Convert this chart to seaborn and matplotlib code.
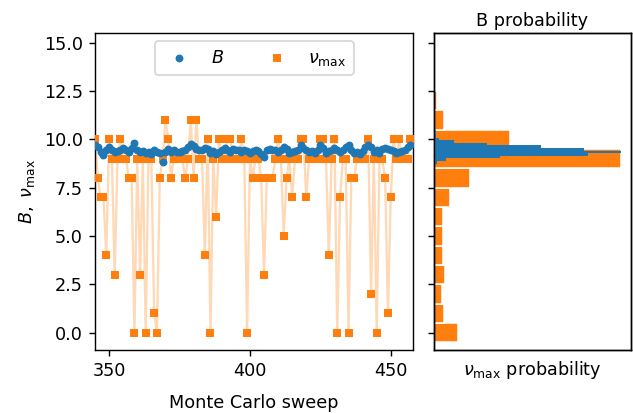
import numpy as np
import matplotlib
matplotlib.use("Agg")
import matplotlib.pyplot as plt
import seaborn as sns

# Monte Carlo sweeps shown in the trace
sweep = np.arange(345, 458)

# nu_max per sweep (integers)
nu_max = [10, 8, 7, 7, 4, 10, 9, 3, 9, 10,
          9, 9, 8, 8, 0, 9, 3, 9, 0, 9,
          9, 1, 0, 8, 9, 11, 10, 8, 9, 9,
          9, 9, 8, 9, 11, 8, 11, 9, 9, 4,
          10, 0, 9, 6, 10, 9, 9, 10, 10, 9,
          9, 9, 10, 9, 0, 9, 8, 9, 9, 8,
          3, 8, 8, 8, 9, 10, 9, 5, 8, 9,
          7, 9, 9, 10, 10, 7, 9, 9, 9, 9,
          10, 10, 9, 4, 9, 10, 0, 7, 9, 9,
          0, 8, 8, 9, 9, 9, 9, 10, 2, 9,
          0, 9, 9, 8, 1, 7, 10, 9, 10, 9,
          9, 9, 10]

# B per sweep
B = [9.69, 9.60, 9.34, 9.17, 9.43, 9.60, 9.47, 9.34, 9.40, 9.47,
     9.57, 9.43, 9.34, 9.57, 9.83, 9.43, 9.34, 9.40, 9.29, 9.34,
     9.26, 9.43, 9.34, 9.29, 8.83, 9.34, 9.52, 9.34, 9.47, 9.34,
     9.34, 9.40, 9.47, 9.60, 9.74, 9.64, 9.52, 9.43, 9.47, 9.57,
     9.52, 9.29, 9.40, 9.26, 9.34, 9.47, 9.57, 9.43, 9.34, 9.52,
     9.43, 9.47, 9.34, 9.43, 9.40, 9.29, 9.40, 9.43, 9.40, 9.26,
     9.09, 9.47, 9.52, 9.47, 9.43, 9.34, 9.47, 9.60, 9.52, 9.29,
     9.34, 9.40, 9.47, 9.69, 9.57, 9.43, 9.34, 9.40, 9.29, 9.43,
     9.69, 9.57, 9.29, 9.40, 9.47, 9.57, 9.47, 9.34, 9.43, 9.60,
     9.69, 9.43, 9.29, 9.34, 9.26, 9.40, 9.60, 9.69, 9.60, 9.34,
     9.43, 9.29, 9.52, 9.57, 9.52, 9.47, 9.40, 9.29, 9.34, 9.40,
     9.47, 9.60, 9.69]

# histogram of the whole run (relative probabilities)
nu_edges = [-0.5 + i for i in range(14)]
nu_prob = [0.128, 0.053, 0.043, 0.059, 0.048, 0.048, 0.048,
           0.085, 0.192, 1.0, 0.405, 0.053, 0.014]
B_edges = list(np.linspace(8.48, 10.50, 16))
B_prob = [0.007, 0.007, 0.016, 0.064, 0.351, 0.824, 1.0, 0.803,
          0.569, 0.282, 0.106, 0.027, 0.009, 0.009, 0.009]

blue = "#1f77b4"
orange = "#ff7f0e"

sns.set_style("ticks", rc={"axes.edgecolor": "black", "xtick.color": "black",
                           "ytick.color": "black", "text.color": "black",
                           "axes.labelcolor": "black"})
plt.rcParams["font.family"] = ["DejaVu Sans"]
plt.rcParams["font.size"] = 10

dpi = 126.6
fig = plt.figure(figsize=(633 / dpi, 413 / dpi), dpi=dpi)
ax = fig.add_axes([95 / 633, 63.2 / 413, 318.3 / 633, 317.1 / 413])
axh = fig.add_axes([434 / 633, 63.2 / 413, 196.7 / 633, 317.1 / 413], sharey=ax)

# trace
sns.lineplot(x=sweep, y=nu_max, color=orange, alpha=0.3, lw=1.3,
             estimator=None, sort=False, ax=ax)
sns.lineplot(x=sweep, y=B, color=blue, alpha=0.3, lw=1.3,
             estimator=None, sort=False, ax=ax)
sns.scatterplot(x=sweep, y=B, marker="o", s=20, color=blue, linewidth=0,
                label="$B$", zorder=4, ax=ax)
sns.scatterplot(x=sweep, y=nu_max, marker="s", s=20, color=orange, linewidth=0,
                label=r"$\nu_\mathrm{max}$", zorder=3, ax=ax)
ax.legend(loc="upper center", ncol=2)
ax.set_xlim(345, 458)
ax.set_xticks([350, 400, 450])
ax.set_yticks(np.arange(0, 15.1, 2.5))
ax.set_xlabel("Monte Carlo sweep", labelpad=8)
ax.set_ylabel(r"$B,\ \nu_\mathrm{max}$")

# side histograms
nu_centers = [(a + b) / 2 for a, b in zip(nu_edges[:-1], nu_edges[1:])]
B_centers = [(a + b) / 2 for a, b in zip(B_edges[:-1], B_edges[1:])]
sns.histplot(y=nu_centers, weights=nu_prob, bins=nu_edges, color=orange,
             alpha=1, edgecolor="white", linewidth=0.9, ax=axh)
axb = axh.twiny()
sns.histplot(y=B_centers, weights=B_prob, bins=B_edges, color=blue,
             alpha=1, linewidth=0, ax=axb)
axh.set_xlim(0, max(nu_prob) * 1.05)
axb.set_xlim(0, max(B_prob) * 1.05)
axh.tick_params(axis="x", bottom=False, labelbottom=False)
axh.tick_params(axis="y", labelleft=False)
axb.tick_params(axis="x", top=False, labeltop=False)
axh.set_ylabel("")
axh.set_xlabel(r"$\nu_\mathrm{max}$ probability", labelpad=5)
axb.set_xlabel("B probability", labelpad=4)
ax.set_ylim(-0.88, 15.52)

fig.savefig("out.png", dpi=dpi)
